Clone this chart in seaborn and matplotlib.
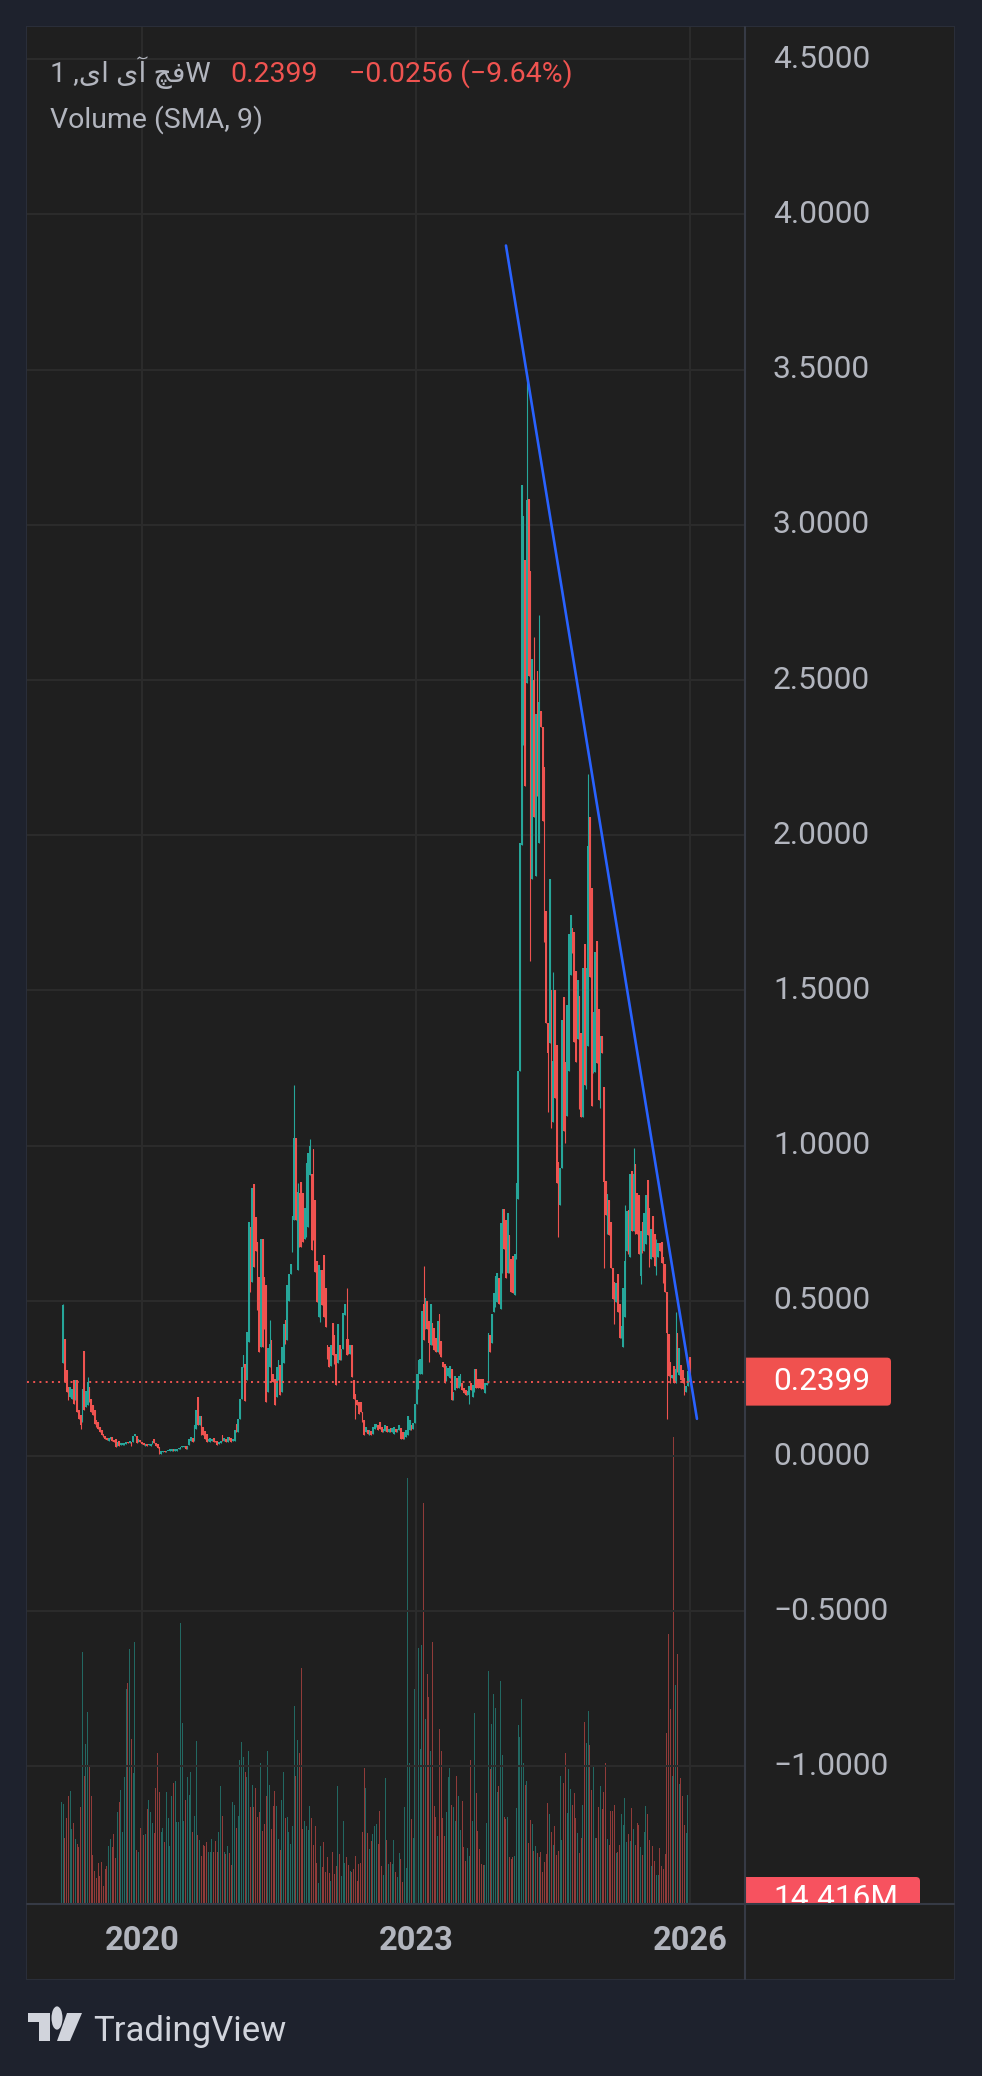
import numpy as np
import pandas as pd
import matplotlib
matplotlib.use("Agg")
import matplotlib.pyplot as plt
import matplotlib.dates as mdates
from matplotlib.patches import Rectangle, Polygon, Circle, FancyBboxPatch
from matplotlib.lines import Line2D
import seaborn as sns

# ---------------- DATA (weekly candles: open, close[, high, low]) ----------------
seg_2019_2020 = [
    (0.30, 0.486, 0.49, None), (0.376, 0.239), (0.276, 0.206), (0.222, 0.18), (0.19, 0.222),
    (0.185, 0.217), (0.244, 0.169), (0.18, 0.244), (0.244, 0.142), (0.147, 0.12),
    (0.131, 0.10, None, 0.088), (0.11, 0.217), (0.34, 0.147), (0.158, 0.21), (0.163, 0.239, 0.255, None),
    (0.222, 0.174), (0.185, 0.142), (0.163, 0.131), (0.147, 0.104), (0.115, 0.094),
    (0.11, 0.088), (0.094, 0.077), (0.083, 0.067), (0.072, 0.061), (0.066, 0.056),
    (0.058, 0.052), (0.05, 0.058), (0.056, 0.061), (0.061, 0.05), (0.052, 0.047),
    (0.056, 0.029), (0.034, 0.045), (0.05, 0.034), (0.036, 0.041), (0.036, 0.043),
    (0.036, 0.043), (0.04, 0.045), (0.045, 0.042), (0.043, 0.05), (0.047, 0.032),
    (0.045, 0.066), (0.066, 0.069), (0.066, 0.043), (0.045, 0.054), (0.052, 0.046),
    (0.047, 0.04), (0.043, 0.036), (0.034, 0.04), (0.04, 0.034), (0.036, 0.038),
    (0.034, 0.04), (0.04, 0.05), (0.054, 0.043), (0.043, 0.034), (0.04, 0.026),
    (0.029, 0.008), (0.008, 0.015), (0.013, 0.015), (0.015, 0.013), (0.013, 0.017),
    (0.015, 0.018), (0.017, 0.022), (0.018, 0.024), (0.024, 0.018), (0.018, 0.021),
    (0.018, 0.024), (0.022, 0.026), (0.024, 0.029), (0.028, 0.031), (0.029, 0.032),
    (0.032, 0.024), (0.024, 0.034), (0.036, 0.056), (0.05, 0.061), (0.058, 0.047),
    (0.05, 0.099), (0.088, 0.147), (0.19, 0.099), (0.099, 0.129), (0.129, 0.067),
    (0.094, 0.067), (0.08, 0.056), (0.072, 0.047), (0.05, 0.054), (0.045, 0.058),
    (0.05, 0.056), (0.058, 0.045), (0.05, 0.045), (0.05, 0.036), (0.038, 0.045),
    (0.043, 0.05), (0.067, 0.05), (0.05, 0.058), (0.056, 0.045), (0.045, 0.061),
    (0.061, 0.052), (0.058, 0.047), (0.05, 0.056), (0.05, 0.083), (0.104, 0.077),
    (0.077, 0.12), (0.12, 0.185),
]
seg_2021_2022 = [
    (0.185, 0.287), (0.287, 0.325), (0.298, 0.176), (0.244, 0.40), (0.366, 0.755),
    (0.739, 0.529), (0.561, 0.865), (0.875, 0.61), (0.77, 0.66), (0.69, 0.47),
    (0.577, 0.335), (0.352, 0.70), (0.70, 0.352), (0.577, 0.41), (0.55, 0.174),
    (0.206, 0.348), (0.287, 0.36, 0.437, None), (0.373, 0.239), (0.265, 0.239), (0.249, 0.163),
    (0.19, 0.287), (0.244, 0.308), (0.293, 0.196), (0.206, 0.35), (0.30, 0.427),
    (0.438, 0.362), (0.373, 0.55), (0.50, 0.588), (0.588, 0.62), (0.658, 0.774),
    (0.76, 1.026, 1.196, None), (1.026, 0.76), (0.60, 0.85, 0.88, None), (0.846, 0.674), (0.884, 0.674),
    (0.846, 0.69), (0.70, 0.80), (0.706, 0.943), (0.738, 0.975), (0.907, 1.0, 1.02, None),
    (0.91, 0.663), (0.99, 0.695), (0.825, 0.593), (0.63, 0.497), (0.449, 0.615),
    (0.432, 0.60), (0.60, 0.486), (0.647, 0.448), (0.54, 0.416), (0.357, 0.314),
    (0.35, 0.287), (0.29, 0.357), (0.43, 0.325), (0.39, 0.298), (0.33, 0.228),
    (0.30, 0.427), (0.357, 0.308), (0.308, 0.346), (0.346, 0.46), (0.454, 0.49),
    (0.378, 0.325, 0.54, None), (0.378, 0.33), (0.33, 0.357), (0.357, 0.255), (0.244, 0.185),
    (0.2, 0.12), (0.18, 0.163), (0.174, 0.137), (0.174, 0.142), (0.142, 0.11),
    (0.115, 0.067), (0.077, 0.094), (0.083, 0.072), (0.067, 0.083), (0.08, 0.069),
    (0.072, 0.094), (0.088, 0.104), (0.094, 0.104), (0.099, 0.083), (0.109, 0.088),
    (0.094, 0.077), (0.077, 0.088), (0.08, 0.101), (0.097, 0.077), (0.077, 0.088),
    (0.09, 0.077), (0.077, 0.09), (0.072, 0.094), (0.088, 0.077), (0.077, 0.088),
    (0.083, 0.099), (0.09, 0.056), (0.077, 0.056), (0.056, 0.077), (0.061, 0.083),
    (0.067, 0.129), (0.083, 0.115), (0.099, 0.083), (0.088, 0.107), (0.107, 0.169),
    (0.169, 0.265), (0.217, 0.31),
]
seg_2023_2024 = [
    (0.264, 0.313), (0.264, 0.469), (0.49, 0.375, 0.613, None), (0.408, 0.508), (0.50, 0.408),
    (0.435, 0.363, None, 0.303), (0.358, 0.49), (0.43, 0.357), (0.413, 0.341), (0.379, 0.335),
    (0.335, 0.435), (0.457, 0.33), (0.37, 0.319), (0.303, 0.286), (0.297, 0.236),
    (0.241, 0.291), (0.258, 0.285), (0.252, 0.291), (0.28, 0.18), (0.18, 0.208),
    (0.213, 0.258), (0.252, 0.219), (0.219, 0.258), (0.225, 0.264), (0.236, 0.214),
    (0.219, 0.202), (0.214, 0.197), (0.197, 0.21), (0.197, 0.225, None, 0.169), (0.236, 0.214),
    (0.191, 0.23), (0.208, 0.28), (0.28, 0.219), (0.247, 0.219), (0.247, 0.219),
    (0.247, 0.216), (0.247, 0.216), (0.203, 0.236), (0.23, 0.236), (0.236, 0.397),
    (0.39, 0.335), (0.363, 0.458), (0.463, 0.524), (0.48, 0.58), (0.497, 0.59),
    (0.574, 0.491), (0.474, 0.752), (0.591, 0.796), (0.796, 0.668), (0.762, 0.574),
    (0.59, 0.784), (0.713, 0.59), (0.635, 0.53), (0.645, 0.524), (0.519, 0.652),
    (0.636, 0.88), (0.829, 1.24), (1.24, 1.975), (1.97, 3.128), (2.29, 3.03),
    (2.886, 2.16), (2.49, 3.08, 3.48, None), (3.083, 2.514), (2.85, 1.595), (1.86, 2.567),
    (2.5, 2.06, 2.64, None), (1.87, 2.39), (2.53, 2.125), (1.975, 2.43, 2.71, None), (2.40, 2.35),
    (2.35, 2.045), (2.22, 1.656), (1.755, 1.395), (1.395, 1.30, None, 1.11), (1.33, 1.86),
    (1.503, 1.057), (1.075, 1.273, 1.558, None), (1.50, 1.154), (1.323, 0.879),
]
seg_2024_2025 = [
    (0.948, 0.82, None, 0.707), (0.809, 0.927), (0.927, 1.405), (1.478, 1.048), (1.27, 1.01),
    (1.095, 1.453), (1.241, 1.682), (1.55, 1.743), (1.70, 1.62), (1.688, 1.335),
    (1.563, 1.27), (1.345, 1.533), (1.482, 1.117), (1.362, 1.093), (1.093, 1.571),
    (1.649, 1.195), (1.184, 1.574), (1.32, 1.965, 2.197, None), (2.06, 1.544), (1.829, 1.128),
    (1.233, 1.43), (1.237, 1.625), (1.66, 1.265), (1.439, 1.147), (1.121, 1.353),
    (1.353, 1.30), (1.19, 0.884, None, 0.605), (0.886, 0.776), (0.717, 0.844), (0.825, 0.712),
    (0.755, 0.605), (0.605, 0.505), (0.562, 0.425), (0.497, 0.558), (0.588, 0.464),
    (0.49, 0.38), (0.38, 0.42), (0.352, 0.543), (0.449, 0.627, 0.81, None), (0.66, 0.79),
    (0.792, 0.651), (0.641, 0.91), (0.919, 0.726), (0.726, 0.91, 0.994, None), (0.94, 0.715),
    (0.849, 0.717), (0.84, 0.651), (0.58, 0.726, None, 0.555), (0.754, 0.653), (0.661, 0.784),
    (0.683, 0.84), (0.889, 0.712), (0.80, 0.608), (0.635, 0.733), (0.773, 0.642),
    (0.717, 0.613), (0.583, 0.642, 0.70, None), (0.642, 0.687), (0.687, 0.66), (0.69, 0.621),
    (0.64, 0.558), (0.62, 0.53), (0.53, 0.395, None, 0.121), (0.393, 0.258), (0.304, 0.234),
    (0.25, 0.262), (0.289, 0.234), (0.234, 0.28, 0.465, None), (0.395, 0.272), (0.26, 0.347),
    (0.293, 0.245), (0.277, 0.234), (0.253, 0.197), (0.207, 0.225), (0.225, 0.275),
    (0.318, 0.2399),
]

# weekly volume (millions)
volume_2019_2022 = [
    305, 300, 197, 257, 325, 340, 225, 242, 195, 180,
    170, 290, 755, 385, 480, 575, 413, 323, 147, 98,
    78, 122, 85, 125, 53, 105, 113, 175, 195, 170,
    209, 137, 275, 305, 341, 215, 380, 645, 662, 765,
    494, 392, 785, 162, 155, 227, 222, 207, 210, 285,
    312, 275, 242, 212, 347, 453, 335, 215, 227, 185,
    335, 257, 173, 323, 363, 368, 247, 245, 842, 542,
    248, 312, 380, 327, 395, 215, 263, 490, 208, 192,
    145, 177, 175, 185, 155, 157, 195, 155, 190, 157,
    217, 353, 265, 157, 150, 173, 152, 117, 305, 297,
    227, 265, 431, 487, 440, 395, 380, 460, 290, 358,
    290, 347, 260, 275, 422, 219, 240, 325, 460, 358,
    225, 293, 338, 295, 195, 163, 311, 395, 257, 260,
    217, 180, 233, 595, 385, 493, 453, 709, 225, 250,
    233, 222, 295, 257, 177, 233, 122, 62, 175, 110,
    187, 95, 140, 92, 70, 155, 90, 115, 353, 149,
    85, 250, 122, 140, 118, 100, 95, 105, 143, 68,
    120, 122, 215, 407, 349, 212, 165, 190, 210, 235,
    239, 180,
]
volume_2022_2025 = [
    278, 113, 87, 377, 192, 119, 125, 120, 192, 95,
    80, 152, 135, 65, 290, 107, 1277, 422, 255, 197,
    645, 1055, 767, 465, 777, 1202, 555, 689, 620, 458,
    785, 293, 260, 205, 524, 458, 258, 205, 275, 380,
    407, 297, 290, 248, 383, 323, 222, 308, 170, 129,
    167, 143, 432, 248, 572, 333, 218, 165, 121, 118,
    117, 242, 698, 405, 539, 629, 587, 335, 353, 668,
    447, 260, 255, 260, 140, 135, 140, 143, 287, 537,
    500, 614, 423, 357, 370, 182, 253, 239, 158, 173,
    152, 142, 157, 95, 125, 150, 302, 270, 215, 178,
    233, 147, 158, 385, 192, 363, 453, 273, 405, 345,
    297, 332, 258, 213, 153, 198, 297, 545, 483, 578,
    477, 342, 410, 198, 197, 290, 353, 285, 335, 422,
    195, 178, 278, 278, 298, 152, 155, 177, 269, 237,
    317, 185, 210, 190, 288, 225, 177, 242, 237, 170,
    147, 215, 295, 270, 192, 113, 173, 128, 87, 87,
    167, 113, 105, 150, 513, 809, 584, 383, 1400, 657,
    749, 360, 378, 325, 237, 212, 327, 14.416,
]

last_week = "2025-12-29"
price_ticks = [4.5, 4.0, 3.5, 3.0, 2.5, 2.0, 1.5, 1.0, 0.5, 0.0, -0.5, -1.0]
year_ticks = ["2020-01-01", "2023-01-01", "2026-01-01"]
year_labels = ["2020", "2023", "2026"]
trend_dates = ["2023-12-25", "2026-01-27"]
trend_prices = [3.90, 0.12]
# symbol name, written in display order with Arabic presentation forms
header_name = "1 ,\uFBFC\uFE8D \uFBFC\uFE81 \uFB7B\uFED3W"
header_price = "0.2399"
header_change = "\u22120.0256 (\u22129.64%)"
indicator_label = "Volume (SMA, 9)"
last_price = 0.2399
last_volume_label = "14.416M"

# ---------------- STYLE ----------------
W, H = 982, 2076
BG_OUT = "#1e222d"
BG = "#1f1f1f"
GRID = "#2c2c2c"
SEP = "#363a45"
TXT = "#b2b5be"
GREEN = "#26a69a"
RED = "#ef5350"

sns.set_theme(style="dark")
plt.rcParams["font.family"] = ["Roboto", "DejaVu Sans"]

fig = plt.figure(figsize=(W / 100, H / 100), dpi=100, facecolor=BG_OUT)


def rect(x0, y0, x1, y1):
    return [x0 / W, 1 - y1 / H, (x1 - x0) / W, (y1 - y0) / H]


def fx(x):
    return x / W


def fy(y):
    return 1 - y / H


# candle arrays
candles = seg_2019_2020 + seg_2021_2022 + seg_2023_2024 + seg_2024_2025
n = len(candles)
dates = pd.date_range(end=pd.Timestamp(last_week), periods=n, freq="7D")
xd = mdates.date2num(dates.to_pydatetime())
opens = np.array([c[0] for c in candles])
closes = np.array([c[1] for c in candles])
highs = np.array([c[2] if len(c) > 2 and c[2] is not None else max(c[0], c[1]) for c in candles])
lows = np.array([c[3] if len(c) > 3 and c[3] is not None else min(c[0], c[1]) for c in candles])
up = closes >= opens
ccols = np.where(up, GREEN, RED)

volume = np.array(volume_2019_2022 + volume_2022_2025, dtype=float)
vdates = pd.date_range(end=pd.Timestamp(last_week), periods=len(volume), freq="7D")
vx = mdates.date2num(vdates.to_pydatetime())
upmap = dict(zip(dates, up))
vcols = [GREEN if upmap.get(d, True) else RED for d in vdates]

last_num = mdates.date2num(pd.Timestamp(last_week).to_pydatetime())
xlim = (last_num - 378.7 * 7, last_num + 31.6 * 7)
ylim = (-1.443, 4.604)

# panel background (behind everything)
fig.patches.append(Rectangle((fx(27), fy(1979)), fx(954) - fx(27), fy(27) - fy(1979),
                             transform=fig.transFigure, facecolor=BG, edgecolor="#2a2e39",
                             lw=1.5, zorder=-5))

# volume axes (bottom layer)
ax_vol = fig.add_axes(rect(27, 27, 745, 1904))
ax_vol.set_zorder(1)
ax_vol.set_facecolor(BG)
ax_vol.bar(vx, volume, width=4.0, color=vcols, alpha=0.55, linewidth=0)
ax_vol.set_ylim(0, (1904 - 27) * 3)
ax_vol.set_xlim(*xlim)
ax_vol.set_xticks([])
ax_vol.set_yticks([])
for s in ax_vol.spines.values():
    s.set_visible(False)

# price axes (top layer)
ax = fig.add_axes(rect(27, 27, 745, 1904), sharex=ax_vol)
ax.set_zorder(2)
ax.set_facecolor("none")
ax.patch.set_alpha(0)
ax.set_ylim(*ylim)
ax.set_xlim(*xlim)
for v in price_ticks:
    ax.axhline(v, color=GRID, lw=1.4, zorder=0)
for d in year_ticks:
    ax.axvline(mdates.date2num(pd.Timestamp(d).to_pydatetime()), color=GRID, lw=1.4, zorder=0)

ax.vlines(xd, lows, highs, colors=ccols, lw=0.8, zorder=2)
ax.bar(xd, np.maximum(np.abs(closes - opens), 0.004), bottom=np.minimum(opens, closes),
       width=6.7, color=ccols, linewidth=0, zorder=3)

ax.axhline(last_price, color=RED, lw=1.4, ls=(0, (1, 2.2)), zorder=4)

tx = mdates.date2num(pd.to_datetime(trend_dates).to_pydatetime())
sns.lineplot(x=tx, y=trend_prices, ax=ax, color="#2962ff", lw=1.9, legend=False, zorder=5)
ax.set_xlim(*xlim)
ax.set_ylim(*ylim)
ax.set_xticks([])
ax.set_yticks([])
ax.set_xlabel("")
ax.set_ylabel("")
for s in ax.spines.values():
    s.set_visible(False)

# right price scale
ax_r = fig.add_axes(rect(745, 27, 954, 1904))
ax_r.set_zorder(1)
ax_r.set_facecolor(BG)
ax_r.set_ylim(*ylim)
ax_r.set_xlim(0, 209)
ax_r.set_xticks([])
ax_r.set_yticks([])
for s in ax_r.spines.values():
    s.set_visible(False)
for v in price_ticks:
    lab = f"{v:.4f}".replace("-", "\u2212")
    ax_r.text(28, v, lab, color=TXT, fontsize=22.8, va="center", ha="left")
px_per_unit = 310.4
ax_r.add_patch(FancyBboxPatch((-4, last_price - 24 / px_per_unit), 150, 48 / px_per_unit,
                              boxstyle="round,pad=0,rounding_size=4", mutation_aspect=1 / px_per_unit,
                              facecolor="#f0514f", edgecolor="none", zorder=3))
ax_r.text(28, last_price, header_price, color="white", fontsize=22.8, va="center", ha="left", zorder=4)
# last volume label, cut by the pane bottom
vb_top = ylim[0] + 27 / px_per_unit
ax_r.add_patch(FancyBboxPatch((-4, vb_top - 60 / px_per_unit), 179, 60 / px_per_unit,
                              boxstyle="round,pad=0,rounding_size=4", mutation_aspect=1 / px_per_unit,
                              facecolor="#f7525f", edgecolor="none", zorder=3, clip_on=True))
ax_r.text(28, ylim[0] + 5 / px_per_unit, last_volume_label, color="white", fontsize=22.8,
          va="center", ha="left", zorder=4, clip_on=True)

# time axis
ax_t = fig.add_axes(rect(27, 1904, 745, 1979), sharex=ax_vol)
ax_t.set_zorder(1)
ax_t.set_facecolor(BG)
ax_t.set_ylim(0, 1)
ax_t.set_yticks([])
for s in ax_t.spines.values():
    s.set_visible(False)
for d, lab in zip(year_ticks, year_labels):
    ax_t.text(mdates.date2num(pd.Timestamp(d).to_pydatetime()), 0.5, lab, color=TXT,
              fontsize=23.5, fontweight="bold", ha="center", va="center")
ax_t.set_xlim(*xlim)
ax_t.tick_params(axis="x", length=0, labelbottom=False)

# corner
fig.patches.append(Rectangle((fx(745), fy(1979)), fx(954) - fx(745), fy(1904) - fy(1979),
                             transform=fig.transFigure, facecolor=BG, edgecolor="none", zorder=-4))

# separators
fig.add_artist(Line2D([fx(745), fx(745)], [fy(27), fy(1979)], color=SEP, lw=1.5, zorder=5))
fig.add_artist(Line2D([fx(27), fx(954)], [fy(1904), fy(1904)], color=SEP, lw=1.5, zorder=5))

# header texts
fig.text(fx(50), fy(82), header_name, color=TXT, fontsize=20.5, va="baseline", ha="left",
         family=["Roboto", "DejaVu Sans"], zorder=6)
fig.text(fx(230), fy(82), header_price, color=RED, fontsize=20.5, va="baseline", ha="left", zorder=6)
fig.text(fx(349), fy(82), header_change, color=RED, fontsize=20.5, va="baseline", ha="left", zorder=6)
fig.text(fx(50), fy(128), indicator_label, color=TXT, fontsize=20.5, va="baseline", ha="left", zorder=6)

# TradingView logo
LOGO = "#d1d4dc"
tpoly = [(28, 2013), (50, 2013), (50, 2041), (39, 2041), (39, 2022), (28, 2022)]
fig.patches.append(Polygon([(fx(a), fy(b)) for a, b in tpoly], closed=True,
                           transform=fig.transFigure, facecolor=LOGO, edgecolor="none"))
fig.patches.append(Circle((fx(57), fy(2018)), 5.5 / W, transform=fig.transFigure,
                          facecolor=LOGO, edgecolor="none"))
spoly = [(67, 2013), (82, 2013), (70, 2041), (57, 2041)]
fig.patches.append(Polygon([(fx(a), fy(b)) for a, b in spoly], closed=True,
                           transform=fig.transFigure, facecolor=LOGO, edgecolor="none"))
fig.text(fx(93), fy(2041), "TradingView", color=LOGO, fontsize=25, va="baseline", ha="left")

fig.savefig("out.png", dpi=100, facecolor=BG_OUT)
